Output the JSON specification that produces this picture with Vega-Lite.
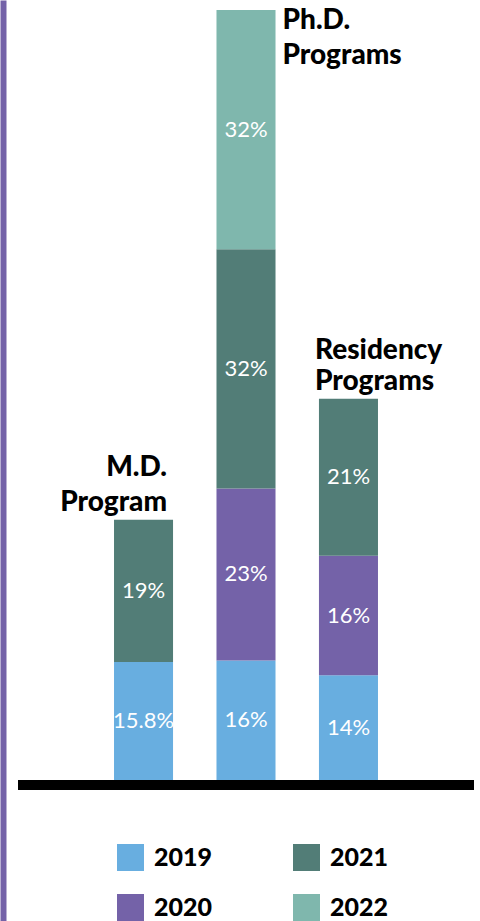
{
  "$schema": "https://vega.github.io/schema/vega-lite/v6.json",
  "width": 456,
  "height": 921,
  "autosize": {"type": "none"},
  "padding": {"left": 18, "top": 0, "right": 6, "bottom": 0},
  "background": "white",
  "config": {
    "view": {"stroke": null},
    "font": "Lato",
    "axisY": {"labels": false, "ticks": false, "grid": false, "domainColor": "#7462A8", "domainWidth": 6, "offset": 15}
  },
  "data": {
    "values": [
      {"program": "M.D. Program", "year": "2019", "value": 15.8},
      {"program": "M.D. Program", "year": "2021", "value": 19},
      {"program": "Ph.D. Programs", "year": "2019", "value": 16},
      {"program": "Ph.D. Programs", "year": "2020", "value": 23},
      {"program": "Ph.D. Programs", "year": "2021", "value": 32},
      {"program": "Ph.D. Programs", "year": "2022", "value": 32},
      {"program": "Residency Programs", "year": "2019", "value": 14},
      {"program": "Residency Programs", "year": "2020", "value": 16},
      {"program": "Residency Programs", "year": "2021", "value": 21}
    ]
  },
  "layer": [
    {
      "mark": {"type": "bar"},
      "encoding": {
        "x": {"field": "program", "type": "nominal", "sort": ["M.D. Program", "Ph.D. Programs", "Residency Programs"], "axis": null, "scale": {"paddingInner": 0.424, "paddingOuter": 0.937}},
        "y": {"field": "value", "type": "quantitative", "aggregate": "sum", "stack": "zero", "title": null, "scale": {"domain": [-18.86, 104.34], "nice": false, "zero": false}},
        "color": {
          "field": "year", "type": "nominal",
          "scale": {"domain": ["2019", "2020", "2021", "2022"], "range": ["#68AEE0", "#7462A8", "#527D77", "#7FB7AD"]},
          "legend": {
            "orient": "none", "legendX": 99, "legendY": 844, "columns": 2, "title": null,
            "symbolType": "square", "symbolSize": 729, "symbolStrokeWidth": 0, "symbolOpacity": 1,
            "labelFont": "Lato", "labelFontSize": 25, "labelFontWeight": 900, "labelColor": "black",
            "labelOffset": 10, "columnPadding": 80, "rowPadding": 23, "padding": 0
          }
        },
        "order": {"field": "year", "type": "ordinal", "sort": "ascending"}
      }
    },
    {
      "transform": [
        {"stack": "value", "groupby": ["program"], "sort": [{"field": "year", "order": "ascending"}], "as": ["v0", "v1"]},
        {"calculate": "(datum.v0 + datum.v1) / 2", "as": "mid"},
        {"calculate": "datum.value + '%'", "as": "label"}
      ],
      "mark": {"type": "text", "color": "white", "fontSize": 22, "font": "Lato", "baseline": "middle"},
      "encoding": {
        "x": {"field": "program", "type": "nominal", "sort": ["M.D. Program", "Ph.D. Programs", "Residency Programs"], "axis": null},
        "y": {"field": "mid", "type": "quantitative", "title": null},
        "text": {"field": "label"}
      }
    },
    {
      "transform": [
        {"aggregate": [{"op": "sum", "field": "value", "as": "total"}], "groupby": ["program"]},
        {"filter": "datum.program == 'M.D. Program'"}
      ],
      "mark": {"type": "text", "align": "right", "baseline": "alphabetic", "dx": 23.5, "dy": -44, "lineBreak": " ", "lineHeight": 35, "fontSize": 28, "fontWeight": 900, "font": "Lato", "color": "black"},
      "encoding": {
        "x": {"field": "program", "type": "nominal", "sort": ["M.D. Program", "Ph.D. Programs", "Residency Programs"], "axis": null},
        "y": {"field": "total", "type": "quantitative", "title": null},
        "text": {"field": "program"}
      }
    },
    {
      "transform": [
        {"aggregate": [{"op": "sum", "field": "value", "as": "total"}], "groupby": ["program"]},
        {"filter": "datum.program == 'Ph.D. Programs'"}
      ],
      "mark": {"type": "text", "align": "left", "baseline": "alphabetic", "dx": 36.5, "dy": 19, "lineBreak": " ", "lineHeight": 35, "fontSize": 28, "fontWeight": 900, "font": "Lato", "color": "black"},
      "encoding": {
        "x": {"field": "program", "type": "nominal", "sort": ["M.D. Program", "Ph.D. Programs", "Residency Programs"], "axis": null},
        "y": {"field": "total", "type": "quantitative", "title": null},
        "text": {"field": "program"}
      }
    },
    {
      "transform": [
        {"aggregate": [{"op": "sum", "field": "value", "as": "total"}], "groupby": ["program"]},
        {"filter": "datum.program == 'Residency Programs'"}
      ],
      "mark": {"type": "text", "align": "left", "baseline": "alphabetic", "dx": -33.5, "dy": -40, "lineBreak": " ", "lineHeight": 31, "fontSize": 28, "fontWeight": 900, "font": "Lato", "color": "black"},
      "encoding": {
        "x": {"field": "program", "type": "nominal", "sort": ["M.D. Program", "Ph.D. Programs", "Residency Programs"], "axis": null},
        "y": {"field": "total", "type": "quantitative", "title": null},
        "text": {"field": "program"}
      }
    },
    {
      "data": {"values": [{"base": 0}]},
      "mark": {"type": "rule", "color": "black", "strokeWidth": 10, "yOffset": 5},
      "encoding": {
        "y": {"field": "base", "type": "quantitative", "title": null}
      }
    }
  ]
}
